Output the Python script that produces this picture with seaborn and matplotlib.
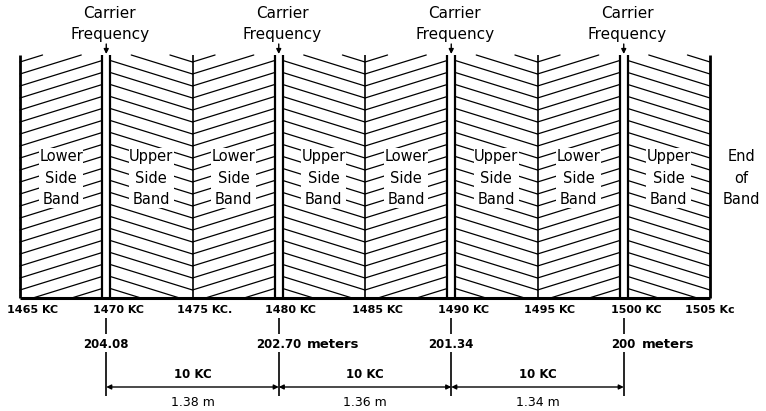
import seaborn as sns
from matplotlib import pyplot as plt

# band edges along the dial (kc) and their labels
freqs = [1465, 1470, 1475, 1480, 1485, 1490, 1495, 1500, 1505]
freq_labels = ["1465 KC", "1470 KC", "1475 KC.", "1480 KC", "1485 KC",
               "1490 KC", "1495 KC", "1500 KC", "1505 Kc"]
carriers = [1470, 1480, 1490, 1500]
band_kinds = ["Lower", "Upper", "Lower", "Upper", "Lower", "Upper", "Lower", "Upper"]
wave_nums = ["204.08", "202.70", "201.34", "200"]
wave_units = ["", "meters", "", "meters"]
spacing_kc = ["10 KC", "10 KC", "10 KC"]
spacing_m = ["1.38 m", "1.36 m", "1.34 m"]

sns.set_theme(style="white")
plt.rcParams['font.family'] = ['DejaVu Sans']
plt.rcParams['text.color'] = 'black'

PX_PER_KC = 17.25
TOP, BASE = 55, 298
GAP = 0.23          # half width of carrier double line (kc)
SLOPE = 5.35        # hatch rise in px per kc
STEP = 12           # vertical spacing of hatch lines (px)

fig = plt.figure(figsize=(7.66, 4.11), dpi=100)
ax = fig.add_axes([0, 0, 1, 1])
ax.set_xlim(1465 - 20 / PX_PER_KC, 1465 + (766 - 20) / PX_PER_KC)
ax.set_ylim(411, 0)
ax.axis('off')


def clipped(xa, ya, xb, yb):
    # cut a segment to the band between TOP and BASE
    if (ya < TOP and yb < TOP) or (ya > BASE and yb > BASE):
        return None
    pts = []
    for x, y, xo, yo in ((xa, ya, xb, yb), (xb, yb, xa, ya)):
        if y < TOP:
            t = (TOP - y) / (yo - y)
            x, y = x + t * (xo - x), TOP
        elif y > BASE:
            t = (BASE - y) / (yo - y)
            x, y = x + t * (xo - x), BASE
        pts.append((x, y))
    return pts


# hatching of every side band
for i, kind in enumerate(band_kinds):
    a, b = freqs[i], freqs[i + 1]
    xa = a + GAP if a in carriers else a
    xb = b - GAP if b in carriers else b
    anchor = b if a in carriers else a
    for k in range(-3, 30):
        yk = BASE - k * STEP + 4
        seg = clipped(xa, yk - SLOPE * abs(xa - anchor), xb, yk - SLOPE * abs(xb - anchor))
        if seg:
            ax.plot([seg[0][0], seg[1][0]], [seg[0][1], seg[1][1]], color='black', lw=0.9)
    ax.text((xa + xb) / 2, 178, f"{kind}\nSide\nBand", ha='center', va='center',
            fontsize=10.5, linespacing=1.55,
            bbox=dict(facecolor='white', edgecolor='none', pad=0.3))

# boundaries
for f in freqs:
    if f in carriers:
        ax.vlines([f - GAP, f + GAP], TOP, BASE, color='black', lw=1.6)
    else:
        ax.vlines(f, TOP, BASE, color='black', lw=2 if f in (freqs[0], freqs[-1]) else 1.2)
ax.hlines(BASE, freqs[0], freqs[-1], color='black', lw=2.2)

ax.text(1465 + 721 / PX_PER_KC, 178, "End\nof\nBand", ha='center', va='center',
        fontsize=10.5, linespacing=1.55)

# frequency labels under the baseline
for f, lab in zip(freqs, freq_labels):
    xoff = 0.7 if f != freqs[-1] else 0
    ax.text(f + xoff, 310, lab, ha='center', va='center', fontsize=8, fontweight='bold')

# carrier captions on top
for c in carriers:
    ax.text(c + 0.2, 14, "Carrier", ha='center', va='center', fontsize=11)
    ax.text(c + 0.2, 34, "Frequency", ha='center', va='center', fontsize=11)
    ax.annotate('', xy=(c, 54), xytext=(c, 44),
                arrowprops=dict(arrowstyle='-|>', color='black', lw=1,
                                mutation_scale=7, shrinkA=0, shrinkB=0))

# wavelength marks below carriers
for c, num, unit in zip(carriers, wave_nums, wave_units):
    ax.vlines(c, 318, 334, color='black', lw=1.2)
    ax.vlines(c, 352, 396, color='black', lw=1.2)
    t = ax.text(c, 344, num, ha='center', va='center', fontsize=8.5, fontweight='bold')
    if unit:
        ax.annotate(unit, xy=(1, 0.5), xycoords=t, xytext=(4, 0), textcoords='offset points',
                    ha='left', va='center', fontsize=9.5, fontweight='bold')

# spacing between carriers
for c1, c2, kc, m in zip(carriers[:-1], carriers[1:], spacing_kc, spacing_m):
    ax.annotate('', xy=(c2, 387), xytext=(c1, 387),
                arrowprops=dict(arrowstyle='<|-|>', color='black', lw=1,
                                mutation_scale=7, shrinkA=0, shrinkB=0))
    ax.text((c1 + c2) / 2, 374, kc, ha='center', va='center', fontsize=8.5, fontweight='bold')
    ax.text((c1 + c2) / 2, 402, m, ha='center', va='center', fontsize=9)

fig.savefig('out.png', dpi=100)
